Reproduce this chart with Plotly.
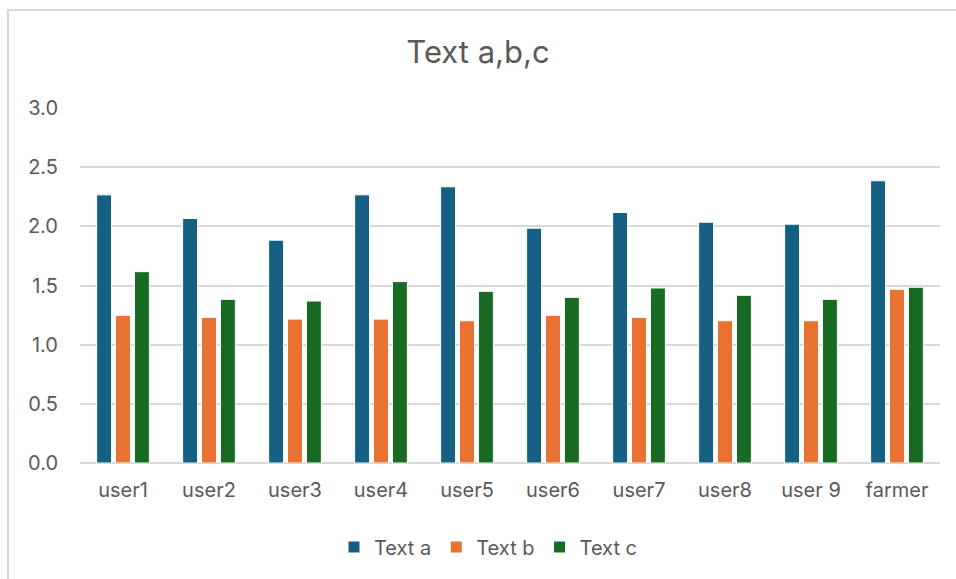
import plotly.graph_objects as go

categories = ["user1", "user2", "user3", "user4", "user5", "user6", "user7", "user8", "user 9", "farmer"]
text_a = [2.266, 2.066, 1.883, 2.266, 2.334, 1.984, 2.117, 2.035, 2.018, 2.385]
text_b = [1.248, 1.231, 1.216, 1.216, 1.202, 1.248, 1.231, 1.202, 1.202, 1.468]
text_c = [1.617, 1.383, 1.369, 1.533, 1.451, 1.400, 1.479, 1.417, 1.383, 1.485]
y_ticks = [0.0, 0.5, 1.0, 1.5, 2.0, 2.5, 3.0]

series = [
    ("Text a", text_a, "#156082"),
    ("Text b", text_b, "#E97132"),
    ("Text c", text_c, "#196B24"),
]

W, H = 956, 579
ML, MR, MT, MB = 80, 16, 108, 116
PW, PH = W - ML - MR, H - MT - MB

fig = go.Figure()
for name, vals, color in series:
    fig.add_trace(go.Bar(
        x=categories, y=vals, name=name,
        marker=dict(color=color, line=dict(color="white", width=1)),
    ))

font_family = "Inter, 'Open Sans', Arial, sans-serif"
fig.update_layout(
    width=W, height=H,
    margin=dict(l=ML, r=MR, t=MT, b=MB, autoexpand=False),
    paper_bgcolor="white", plot_bgcolor="white",
    barmode="group", bargap=0.34, bargroupgap=0.21,
    font=dict(family=font_family, color="#595959", size=20),
    title=dict(text="Text a,b,c", x=0.5, xanchor="center", y=1 - 52 / H, yanchor="middle",
               font=dict(size=31, color="#595959", family=font_family)),
    legend=dict(orientation="h", x=0.475, xanchor="center", y=-(547 - (H - MB)) / PH,
                yanchor="middle", font=dict(size=20, color="#595959"), itemwidth=30,
                traceorder="normal"),
    showlegend=True,
)
fig.update_yaxes(
    range=[0, 3], tickvals=y_ticks, ticktext=[f"{v:.1f}" for v in y_ticks],
    showgrid=True, gridcolor="#D9D9D9", gridwidth=1.5,
    zeroline=True, zerolinecolor="#D9D9D9", zerolinewidth=1.5,
    showline=False, ticks="", ticklabelstandoff=21,
)
fig.update_xaxes(
    showgrid=False, showline=False, ticks="", ticklabelstandoff=13,
    tickfont=dict(size=20, color="#595959"),
)
# outer chart frame (runs off the right and bottom edges of the page)
fig.add_shape(type="rect", xref="paper", yref="paper",
              x0=(8 - ML) / PW, x1=(W + 20 - ML) / PW,
              y0=-(H + 20 - (H - MB)) / PH, y1=1 + (MT - 10) / PH,
              line=dict(color="#D9D9D9", width=2), layer="below")

fig.write_html("out.html")
